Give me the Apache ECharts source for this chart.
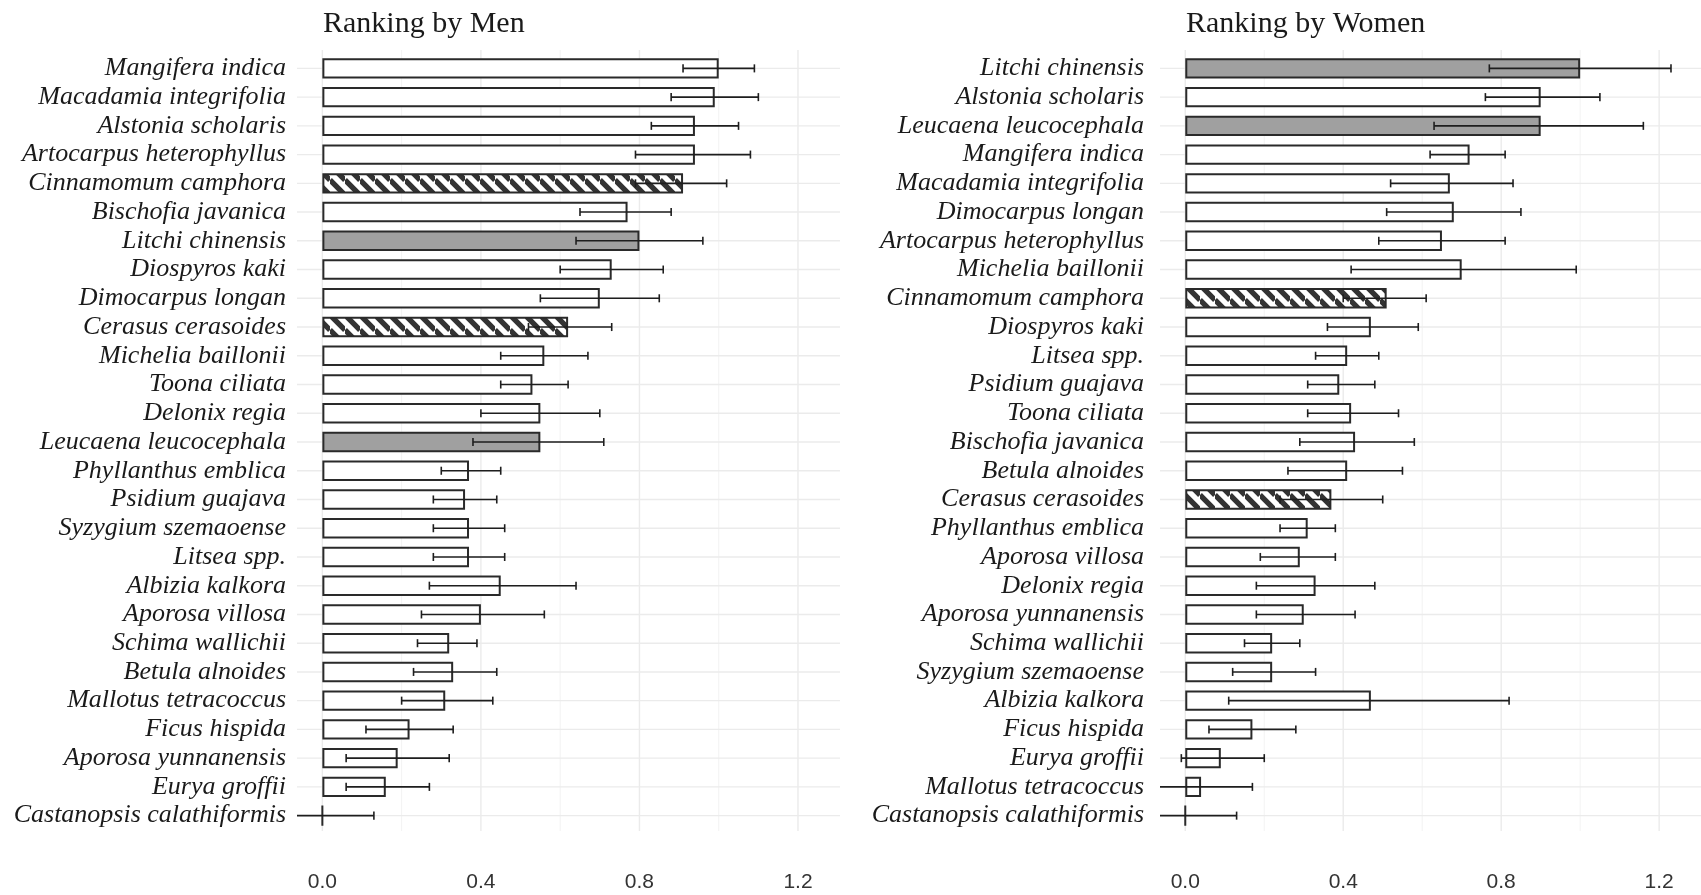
<!DOCTYPE html>
<html><head><meta charset="utf-8">
<script src="https://cdn.jsdelivr.net/npm/echarts@6/dist/echarts.min.js"></script>
<style>html,body{margin:0;padding:0;background:#fff}#c{width:1701px;height:895px}</style>
</head><body><div id="c"></div>
<script>
// ---------- data ----------
const menSpecies = ['Mangifera indica','Macadamia integrifolia','Alstonia scholaris','Artocarpus heterophyllus','Cinnamomum camphora','Bischofia javanica','Litchi chinensis','Diospyros kaki','Dimocarpus longan','Cerasus cerasoides','Michelia baillonii','Toona ciliata','Delonix regia','Leucaena leucocephala','Phyllanthus emblica','Psidium guajava','Syzygium szemaoense','Litsea spp.','Albizia kalkora','Aporosa villosa','Schima wallichii','Betula alnoides','Mallotus tetracoccus','Ficus hispida','Aporosa yunnanensis','Eurya groffii','Castanopsis calathiformis'];
const menMean = [1.00,0.99,0.94,0.94,0.91,0.77,0.80,0.73,0.70,0.62,0.56,0.53,0.55,0.55,0.37,0.36,0.37,0.37,0.45,0.40,0.32,0.33,0.31,0.22,0.19,0.16,0.00];
const menLow  = [0.91,0.88,0.83,0.79,0.79,0.65,0.64,0.60,0.55,0.52,0.45,0.45,0.40,0.38,0.30,0.28,0.28,0.28,0.27,0.25,0.24,0.23,0.20,0.11,0.06,0.06,-0.13];
const menHigh = [1.09,1.10,1.05,1.08,1.02,0.88,0.96,0.86,0.85,0.73,0.67,0.62,0.70,0.71,0.45,0.44,0.46,0.46,0.64,0.56,0.39,0.44,0.43,0.33,0.32,0.27,0.13];

const womenSpecies = ['Litchi chinensis','Alstonia scholaris','Leucaena leucocephala','Mangifera indica','Macadamia integrifolia','Dimocarpus longan','Artocarpus heterophyllus','Michelia baillonii','Cinnamomum camphora','Diospyros kaki','Litsea spp.','Psidium guajava','Toona ciliata','Bischofia javanica','Betula alnoides','Cerasus cerasoides','Phyllanthus emblica','Aporosa villosa','Delonix regia','Aporosa yunnanensis','Schima wallichii','Syzygium szemaoense','Albizia kalkora','Ficus hispida','Eurya groffii','Mallotus tetracoccus','Castanopsis calathiformis'];
const womenMean = [1.00,0.90,0.90,0.72,0.67,0.68,0.65,0.70,0.51,0.47,0.41,0.39,0.42,0.43,0.41,0.37,0.31,0.29,0.33,0.30,0.22,0.22,0.47,0.17,0.09,0.04,0.00];
const womenLow  = [0.77,0.76,0.63,0.62,0.52,0.51,0.49,0.42,0.40,0.36,0.33,0.31,0.31,0.29,0.26,0.24,0.24,0.19,0.18,0.18,0.15,0.12,0.11,0.06,-0.01,-0.09,-0.13];
const womenHigh = [1.23,1.05,1.16,0.81,0.83,0.85,0.81,0.99,0.61,0.59,0.49,0.48,0.54,0.58,0.55,0.50,0.38,0.38,0.48,0.43,0.29,0.33,0.82,0.28,0.20,0.17,0.13];

const grayGroup = ['Litchi chinensis','Leucaena leucocephala'];
const hatchGroup = ['Cinnamomum camphora','Cerasus cerasoides'];

const titles = ['Ranking by Men','Ranking by Women'];
const xTickValues = [0, 0.4, 0.8, 1.2];
const majorGridValues = [0, 0.4, 0.8, 1.2];
const minorGridValues = [0.2, 0.6, 1.0];
const X_MIN = -0.064, X_MAX = 1.306;

// ---------- styling helpers ----------
function makeHatch() {
  const s = 15;
  const c = document.createElement('canvas');
  c.width = s; c.height = s;
  const ctx = c.getContext('2d');
  ctx.fillStyle = '#ffffff'; ctx.fillRect(0, 0, s, s);
  ctx.strokeStyle = '#333333'; ctx.lineWidth = 5.4;
  ctx.beginPath();
  for (let k = -1; k <= 1; k++) { ctx.moveTo(0, k * s); ctx.lineTo(s, s + k * s); }
  ctx.stroke();
  return c;
}
const hatchFill = { image: makeHatch(), repeat: 'repeat' };

function fillFor(name) {
  if (grayGroup.includes(name)) return '#a0a0a0';
  if (hatchGroup.includes(name)) return hatchFill;
  return '#ffffff';
}

function vGrid(idx, values, color, width) {
  return {
    type: 'custom', xAxisIndex: idx, yAxisIndex: idx, silent: true, z: 0,
    data: values.map(v => [v, 0]), encode: { x: 0, y: 1 },
    renderItem(params, api) {
      const cs = params.coordSys;
      const x = api.coord([api.value(0), 0])[0];
      return { type: 'line', shape: { x1: x, y1: cs.y - 4, x2: x, y2: cs.y + cs.height + 1 },
               style: { stroke: color, lineWidth: width } };
    }
  };
}
function hGrid(idx, species) {
  return {
    type: 'custom', xAxisIndex: idx, yAxisIndex: idx, silent: true, z: 0,
    data: species.map((s, i) => [0, i]), encode: { x: 0, y: 1 },
    renderItem(params, api) {
      const cs = params.coordSys;
      const y = api.coord([0, api.value(1)])[1];
      return { type: 'line', shape: { x1: cs.x, y1: y, x2: cs.x + cs.width, y2: y },
               style: { stroke: '#ebebeb', lineWidth: 1.4 } };
    }
  };
}
function bars(idx, species, mean) {
  return {
    type: 'bar', xAxisIndex: idx, yAxisIndex: idx, z: 2, barWidth: '71%', silent: true,
    data: species.map((s, i) => ({ value: mean[i], itemStyle: { color: fillFor(s) } })),
    itemStyle: { borderColor: '#2a2a2a', borderWidth: 2 }
  };
}
function errBars(idx, species, low, high) {
  return {
    type: 'custom', xAxisIndex: idx, yAxisIndex: idx, silent: true, z: 3,
    data: species.map((s, i) => [low[i], high[i], i]), encode: { x: [0, 1], y: 2 },
    renderItem(params, api) {
      const cs = params.coordSys;
      const c = api.value(2);
      const p1 = api.coord([api.value(0), c]);
      const p2 = api.coord([api.value(1), c]);
      const h = api.size([0, 1])[1] * 0.14;
      const st = { stroke: '#1e1e1e', lineWidth: 1.6 };
      const x1 = Math.max(p1[0], cs.x);
      const children = [
        { type: 'line', shape: { x1: x1, y1: p1[1], x2: p2[0], y2: p2[1] }, style: st },
        { type: 'line', shape: { x1: p2[0], y1: p2[1] - h, x2: p2[0], y2: p2[1] + h }, style: st }
      ];
      if (p1[0] >= cs.x) children.push({ type: 'line', shape: { x1: p1[0], y1: p1[1] - h, x2: p1[0], y2: p1[1] + h }, style: st });
      return { type: 'group', children };
    }
  };
}

const gridLefts = [297, 1160];
const labelMargins = [11, 16];
const speciesLists = [menSpecies, womenSpecies];

const option = {
  animation: false,
  backgroundColor: '#ffffff',
  title: titles.map((t, i) => ({
    text: t, left: gridLefts[i] + 21, top: 4,
    textStyle: { fontFamily: 'Liberation Serif', fontSize: 30, fontWeight: 'normal', color: '#1a1a1a' }
  })),
  grid: gridLefts.map(l => ({ left: l, top: 54, width: 543, height: 776, containLabel: false })),
  xAxis: gridLefts.map((l, i) => ({
    type: 'value', gridIndex: i, min: X_MIN, max: X_MAX,
    axisLine: { show: false }, axisTick: { show: false }, splitLine: { show: false },
    axisLabel: { customValues: xTickValues, formatter: v => v.toFixed(1), fontFamily: 'Liberation Sans',
                 fontSize: 21, color: '#333333', margin: 42 }
  })),
  yAxis: speciesLists.map((sp, i) => ({
    type: 'category', gridIndex: i, data: sp, inverse: true,
    axisLine: { show: false }, axisTick: { show: false }, splitLine: { show: false },
    axisLabel: { interval: 0, fontFamily: 'Liberation Serif', fontStyle: 'italic', fontSize: 26, color: '#1a1a1a',
                 margin: labelMargins[i] }
  })),
  series: [
    vGrid(0, minorGridValues, '#f3f3f3', 1), vGrid(0, majorGridValues, '#ebebeb', 1.4), hGrid(0, menSpecies),
    bars(0, menSpecies, menMean), errBars(0, menSpecies, menLow, menHigh),
    vGrid(1, minorGridValues, '#f3f3f3', 1), vGrid(1, majorGridValues, '#ebebeb', 1.4), hGrid(1, womenSpecies),
    bars(1, womenSpecies, womenMean), errBars(1, womenSpecies, womenLow, womenHigh)
  ]
};
const chart = echarts.init(document.getElementById('c'), null, { renderer: 'canvas' });
chart.setOption(option);
</script></body></html>
